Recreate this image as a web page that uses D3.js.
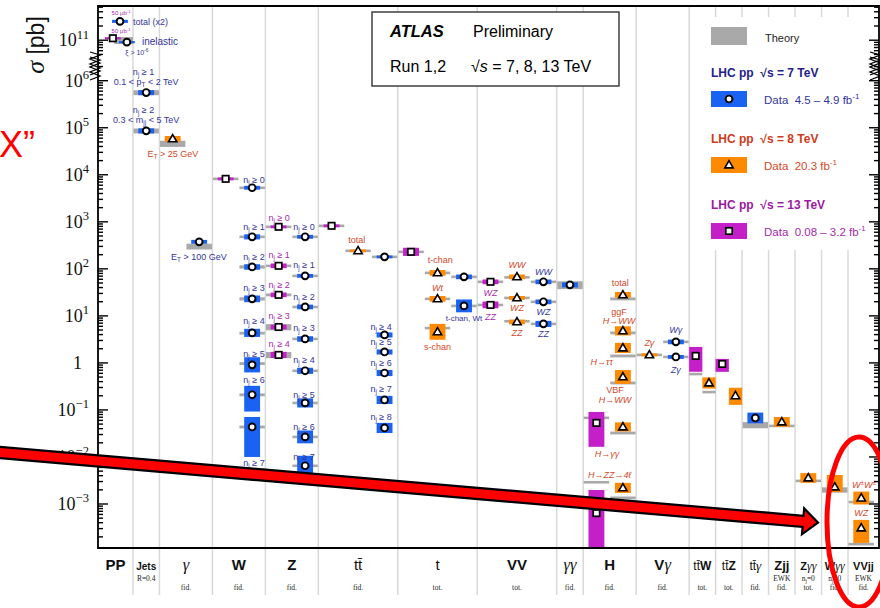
<!DOCTYPE html>
<html>
<head>
<meta charset="utf-8">
<script src="https://cdn.jsdelivr.net/npm/d3@7"></script>
<style>
  body { margin: 0; background: #fff; }
  svg { display: block; }
</style>
</head>
<body>
<svg id="chart" width="880" height="608"></svg>
<script>
// columns of the summary plot: name, slot edges, small text under the name
var colNames = ["PP", "Jets", "γ", "W", "Z", "tt\u0304", "t", "VV", "γγ", "H", "Vγ", "tt\u0304W", "tt\u0304Z", "tt\u0304γ", "Zjj", "Zγγ", "Wγγ", "VVjj"];
var colEdges = [-1.32, 0, 1, 3, 5, 7, 10, 13, 16, 17, 19, 21, 22, 23, 24, 25, 26, 27, 28.17];
var colNotes = [[], ["R=0.4"], ["fid."], ["fid."], ["fid."], ["fid."], ["tot."], ["tot."], ["fid."], ["fid."], ["fid."],
  ["tot."], ["tot."], ["fid."], ["EWK", "fid."], ["n_{j}=0", "tot."], ["n_{j}=0", "fid."], ["EWK", "fid."]];

// measurements: [slot, sigma (pb), rel. up, rel. down, theory sigma, theory rel. unc.]
var meas7 = [
  [-0.49, 2.5e11, .08, .07, null, 0],
  [-0.23, 9.1e10, .05, .05, 1.0e11, .17],
  [0.5, 5.6e5, .13, .12, 5.6e5, .12],
  [0.5, 8.6e4, .13, .12, 8.6e4, .12],
  [2.5, 375, .1, .09, 300, .14],
  [4.5, 5300, .1, .09, 5300, .06],
  [4.5, 480, .13, .12, 480, .06],
  [4.5, 110, .14, .13, 110, .08],
  [4.5, 23, .18, .15, 23, .08],
  [4.5, 4.35, .22, .18, 4.3, .07],
  [4.5, 0.91, .45, .31, 0.97, .07],
  [4.5, 0.21, .55, .56, 0.21, .07],
  [4.5, 0.0435, .63, .77, 0.0435, .07],
  [6.5, 480, .1, .09, 480, .06],
  [6.5, 71, .1, .09, 71, .06],
  [6.5, 15.5, .12, .11, 15.5, .06],
  [6.5, 3.24, .14, .13, 3.24, .06],
  [6.5, 0.68, .16, .14, 0.68, .06],
  [6.5, 0.141, .25, .2, 0.141, .06],
  [6.5, 0.0267, .37, .27, 0.0267, .06],
  [6.5, 0.0065, .63, .39, 0.0065, .06],
  [9.5, 180, .07, .07, 180, .06],
  [9.5, 3.94, .13, .12, null, 0],
  [9.5, 1.71, .13, .12, null, 0],
  [9.5, 0.61, .16, .14, null, 0],
  [9.5, 0.163, .22, .18, null, 0],
  [9.5, 0.0414, .28, .22, null, 0],
  [12.5, 67.6, .12, .11, 67.6, .05],
  [12.5, 16.3, .37, .27, 16.3, .05],
  [15.5, 53, .12, .11, 53, .05],
  [15.5, 19.9, .12, .11, 19.9, .05],
  [15.5, 6.76, .16, .14, 6.76, .05],
  [16.5, 45.7, .13, .12, 45.7, .19],
  [20.5, 2.8, .12, .11, 2.8, .03],
  [20.5, 1.34, .1, .09, 1.34, .03],
  [23.5, 0.0675, .3, .23, 0.048, .15]
];
var meas8 = [
  [1.5, 5.8e4, .15, .13, 4.6e4, .15],
  [8.5, 242, .07, .07, 242, .06],
  [11.5, 82, .15, .13, 82, .05],
  [11.5, 23, .15, .13, 23, .05],
  [11.5, 4.57, .48, .32, 5.5, .05],
  [14.5, 67.6, .12, .11, 66, .06],
  [14.5, 24.1, .1, .09, 24.1, .05],
  [14.5, 7.45, .12, .11, 7.7, .05],
  [18.5, 28, .15, .13, 23, .07],
  [18.5, 4.8, .25, .2, 4.35, .07],
  [18.5, 2.08, .28, .22, 1.41, .07],
  [18.5, 0.504, .4, .29, 0.375, .07],
  [18.5, 0.0435, .25, .2, 0.0324, .07],
  [18.5, 0.0022, .28, .22, 0.00135, .07],
  [19.5, 1.48, .08, .07, 1.48, .03],
  [21.75, 0.375, .31, .24, 0.24, .05],
  [22.75, 0.2, .48, .36, 0.23, .05],
  [24.5, 0.0556, .27, .21, 0.0457, .03],
  [25.5, 0.00357, .27, .21, 0.0031, .03],
  [26.5, 0.0023, .8, .22, 0.002, .13],
  [27.5, 0.00134, .37, .27, 0.0011, .04],
  [27.5, 3.1e-4, .48, .52, 1.4e-4, .04]
];
var meas13 = [
  [-0.76, 1.1e11, .04, .04, null, 0],
  [3.5, 8200, .07, .07, 8200, .06],
  [5.5, 783, .07, .07, 783, .06],
  [5.5, 116, .12, .11, 116, .06],
  [5.5, 28, .12, .11, 28, .07],
  [5.5, 5.8, .12, .11, 5.8, .15],
  [5.5, 1.48, .16, .14, 1.48, .15],
  [7.5, 822, .07, .07, 822, .05],
  [10.5, 230, .22, .18, 230, .05],
  [13.5, 53, .12, .11, 53, .05],
  [13.5, 17.1, .18, .15, 17.1, .06],
  [17.5, 0.053, .71, .69, 0.068, .05],
  [17.5, 6.4e-4, 2.1, .85, 0.0029, .05],
  [21.25, 1.41, .55, .54, 0.58, .05],
  [22.25, 0.95, .28, .32, 0.78, .05]
];

// labels next to the measurements: [text, slot, sigma, sqrt(s), font size, anchor]
var labels = [
  ["total (x2)", 0.0, 2.5e11, 7, 9, "start"], ["inelastic", 0.34, 9.5e10, 7, 10, "start"],
  ["50 μb^{-1}", -0.45, 3.7e11, 13, 6], ["50 μb^{-1}", -0.45, 1.55e11, 13, 6], ["ξ > 10^{-6}", 0.15, 5.6e10, 7, 7],
  ["n_{j} ≥ 1", 0.4, 1.55e6, 7, 9], ["0.1 < p_{T} < 2 TeV", 0.5, 9.5e5, 7, 9],
  ["n_{j} ≥ 2", 0.4, 2.4e5, 7, 9], ["0.3 < m_{jj} < 5 TeV", 0.5, 1.48e5, 7, 9],
  ["E_{T} > 25 GeV", 1.51, 2.8e4, 8, 9], ["E_{T} > 100 GeV", 2.49, 180, 7, 9],
  ["n_{j} ≥ 0", 4.57, 7800, 7, 9], ["n_{j} ≥ 1", 4.57, 780, 7, 9], ["n_{j} ≥ 2", 4.57, 180, 7, 9], ["n_{j} ≥ 3", 4.57, 39, 7, 9],
  ["n_{j} ≥ 4", 4.57, 7.8, 7, 9], ["n_{j} ≥ 5", 4.57, 1.55, 7, 9], ["n_{j} ≥ 6", 4.57, 0.44, 7, 9], ["n_{j} ≥ 7", 4.57, 0.0075, 7, 9],
  ["n_{j} ≥ 0", 5.52, 1230, 13, 9], ["n_{j} ≥ 1", 5.52, 200, 13, 9], ["n_{j} ≥ 2", 5.52, 46, 13, 9], ["n_{j} ≥ 3", 5.52, 10, 13, 9], ["n_{j} ≥ 4", 5.52, 2.5, 13, 9],
  ["n_{j} ≥ 0", 6.46, 780, 7, 9], ["n_{j} ≥ 1", 6.46, 122, 7, 9], ["n_{j} ≥ 2", 6.46, 25, 7, 9], ["n_{j} ≥ 3", 6.46, 5.6, 7, 9],
  ["n_{j} ≥ 4", 6.46, 1.16, 7, 9], ["n_{j} ≥ 5", 6.46, 0.21, 7, 9], ["n_{j} ≥ 6", 6.46, 0.044, 7, 9], ["n_{j} ≥ 7", 6.46, 0.01, 7, 9],
  ["total", 8.45, 415, 8, 9],
  ["n_{j} ≥ 4", 9.37, 5.8, 7, 9], ["n_{j} ≥ 5", 9.37, 2.8, 7, 9], ["n_{j} ≥ 6", 9.37, 1.0, 7, 9], ["n_{j} ≥ 7", 9.37, 0.28, 7, 9], ["n_{j} ≥ 8", 9.37, 0.071, 7, 9],
  ["t-chan", 11.6, 155, 8, 9], ["Wt", 11.5, 39, 8, 9], ["s-chan", 11.5, 2.2, 8, 9], ["t-chan, Wt", 12.5, 9.1, 7, 8],
  ["WZ", 13.5, 31, 13, 9], ["ZZ", 13.5, 9.5, 13, 9],
  ["WW", 14.5, 122, 8, 9], ["WZ", 14.5, 14.8, 8, 9], ["ZZ", 14.5, 4.35, 8, 9],
  ["WW", 15.5, 86, 7, 9], ["WZ", 15.5, 12.2, 7, 9], ["ZZ", 15.5, 4.1, 7, 9],
  ["total", 18.4, 50, 8, 9], ["ggF", 18.35, 12.2, 8, 9], ["H→WW", 18.35, 7.8, 8, 9], ["H→ττ", 17.7, 1.05, 8, 9],
  ["VBF", 18.2, 0.27, 8, 9], ["H→WW", 18.2, 0.16, 8, 9], ["H→γγ", 17.9, 0.0115, 8, 9], ["H→ZZ→4ℓ", 18.0, 0.0042, 8, 9],
  ["Zγ", 19.5, 2.7, 8, 9], ["Wγ", 20.5, 5.0, 7, 9], ["Zγ", 20.5, 0.71, 7, 9],
  ["W^{±}W^{±}", 27.6, 0.0025, 8, 9], ["WZ", 27.5, 6.4e-4, 8, 9]
];

var decadesLow = [-3, -2, -1, 0, 1, 2, 3, 4, 5, 6];
var decadesUp = [11];

var fill = {7: "#1a63f2", 8: "#ff8a00", 13: "#c41fc8"};
var ink = {7: "#34349e", 8: "#d2482a", 13: "#a22aac"};
var head = {7: "#22228a", 8: "#cc3a1a", 13: "#9a1aa2"};
var theoryColor = "#a9a9a9";

var svg = d3.select("#chart").attr("font-family", "Liberation Sans, Arial, sans-serif");

var x = d3.scaleLinear().domain([-1.32, 28.17]).range([98, 879]);
var yLow = d3.scaleLog().domain([1.16e-4, 2.5e6]).range([548, 62]);
var yUp = d3.scaleLog().domain([4.2e10, 5.3e11]).range([58, 6]);
function y(v) { return v > 1e8 ? yUp(v) : yLow(v); }
var sw = x(1) - x(0);

// small helper for ^{..} and _{..}
function rich(t, s, fs) {
  var shift = 0;
  s.split(/([\^_]\{[^}]*\})/).forEach(function(p) {
    if (!p) return;
    var m = p.match(/^([\^_])\{([^}]*)\}$/);
    if (m) {
      var d = m[1] == "^" ? -0.42 * fs : 0.25 * fs;
      t.append("tspan").attr("dy", d - shift).attr("font-size", fs * 0.7).text(m[2]);
      shift = d;
    } else {
      t.append("tspan").attr("dy", -shift).text(p);
      shift = 0;
    }
  });
  return t;
}

function colIndex(s) {
  for (var i = 0; i < colEdges.length - 1; i++) if (s >= colEdges[i] && s < colEdges[i + 1]) return i;
  return colEdges.length - 2;
}

// grid lines between columns
svg.append("g").selectAll("line").data(colEdges.slice(1, -1)).join("line")
  .attr("x1", d => x(d)).attr("x2", d => x(d)).attr("y1", 6).attr("y2", 595)
  .attr("stroke", "#d9d9d9").attr("stroke-width", 1.5);

// legend background hides the grid
svg.append("rect").attr("x", 697).attr("y", 17).attr("width", 180).attr("height", 233).attr("fill", "#fff");

var plot = svg.append("g").attr("clip-path", "url(#clip)");
svg.append("clipPath").attr("id", "clip").append("rect").attr("x", 98).attr("y", 6).attr("width", 781).attr("height", 542);

function drawSet(rows, e) {
  rows.forEach(function(r) {
    var slot = r[0], v = r[1], ci = colIndex(slot);
    var fr = slot - Math.floor(slot);
    var shared = (colEdges[ci + 1] - colEdges[ci]) === 1 && Math.abs(fr - 0.5) > 0.1;
    var dw = (shared ? 0.5 : 0.6) * sw, tw = (shared ? 0.5 : 0.96) * sw;
    var cx = x(slot);
    if (r[4] != null) {
      var t0 = y(r[4] * (1 + r[5])), t1 = y(r[4] * (1 - r[5]));
      if (t1 - t0 < 2.6) { var m = (t0 + t1) / 2; t0 = m - 1.3; t1 = m + 1.3; }
      var xa = Math.max(cx - tw / 2, x(colEdges[ci])), xb = Math.min(cx + tw / 2, x(colEdges[ci + 1]));
      plot.append("rect").attr("x", xa).attr("y", t0).attr("width", xb - xa).attr("height", t1 - t0).attr("fill", theoryColor);
    }
    var d0 = y(v * (1 + r[2])), d1 = y(v * (1 - r[3]));
    if (d1 - d0 < 2.2) { var mm = (d0 + d1) / 2; d0 = mm - 1.1; d1 = mm + 1.1; }
    plot.append("rect").attr("x", cx - dw / 2).attr("y", d0).attr("width", dw).attr("height", d1 - d0).attr("fill", fill[e]);
  });
}
drawSet(meas7, 7); drawSet(meas8, 8); drawSet(meas13, 13);

function marker(g, e, cx, cy) {
  if (e == 7) g.append("circle").attr("cx", cx).attr("cy", cy).attr("r", 3.4)
    .attr("fill", "#fff").attr("stroke", "#000").attr("stroke-width", 1.9);
  else if (e == 8) g.append("path").attr("d", d3.symbol(d3.symbolTriangle, 30)())
    .attr("transform", "translate(" + cx + "," + (cy + 0.5) + ")")
    .attr("fill", "#fff").attr("stroke", "#000").attr("stroke-width", 1.6);
  else g.append("rect").attr("x", cx - 3.2).attr("y", cy - 3.2).attr("width", 6.4).attr("height", 6.4)
    .attr("fill", "#fff").attr("stroke", "#000").attr("stroke-width", 1.7);
}
[[meas7, 7], [meas8, 8], [meas13, 13]].forEach(function(p) {
  p[0].forEach(function(r) { marker(plot, p[1], x(r[0]), y(r[1])); });
});

// labels on the points
var plain = /^(n_|E_|0\.|total|t-chan|s-chan|ggF|VBF|50|ξ|inel)/;
labels.forEach(function(l) {
  var fs = l[4];
  var t = svg.append("text").attr("x", x(l[1])).attr("y", y(l[2]) + fs * 0.35)
    .attr("text-anchor", l[5] || "middle").attr("font-size", fs).attr("fill", ink[l[3]]);
  if (!plain.test(l[0])) t.attr("font-style", "italic");
  rich(t, l[0], fs);
});

// frame and axes
var frame = svg.append("g").attr("stroke", "#000").attr("fill", "none");
frame.append("path").attr("d", "M98,548V6H879V548Z").attr("stroke-width", 1.8);
function ticks(sc, lo, hi) {
  var out = [];
  for (var e = lo; e <= hi; e++) for (var k = 1; k < 10; k++) {
    var v = k * Math.pow(10, e);
    if (v >= sc.domain()[0] && v <= sc.domain()[1]) out.push([sc(v), k == 1]);
  }
  return out;
}
var allTicks = ticks(yLow, -4, 6).concat(ticks(yUp, 10, 11));
frame.selectAll(".tl").data(allTicks).join("line").attr("class", "tl")
  .attr("x1", 98).attr("x2", d => d[1] ? 108 : 103).attr("y1", d => d[0]).attr("y2", d => d[0]).attr("stroke-width", 1.4);
frame.selectAll(".tr").data(allTicks).join("line").attr("class", "tr")
  .attr("x1", 879).attr("x2", d => d[1] ? 869 : 874).attr("y1", d => d[0]).attr("y2", d => d[0]).attr("stroke-width", 1.4);

// axis break marks
[90, 870].forEach(function(bx) {
  [0, 5].forEach(function(o) {
    frame.append("path").attr("stroke-width", 1.3)
      .attr("d", "M" + bx + "," + (52 + o) + "l10,3l-10,4l10,4l-10,4l10,4l-10,4");
  });
});

var yl = svg.append("g").attr("font-family", "Liberation Serif, Times New Roman, serif").attr("font-size", 18).attr("fill", "#111");
decadesLow.forEach(function(e) {
  var t = yl.append("text").attr("x", e == 0 ? 82 : 89).attr("y", yLow(Math.pow(10, e)) + 6).attr("text-anchor", "end");
  rich(t, e == 0 ? "1" : "10^{" + (e < 0 ? "\u2212" + (-e) : e) + "}", 18);
});
decadesUp.forEach(function(e) {
  rich(yl.append("text").attr("x", 89).attr("y", yUp(Math.pow(10, e)) + 6).attr("text-anchor", "end"), "10^{" + e + "}", 18);
});
var yt = svg.append("text").attr("transform", "translate(44,45) rotate(-90)").attr("text-anchor", "middle")
  .attr("font-size", 23).attr("fill", "#111");
yt.append("tspan").attr("font-style", "italic").attr("font-family", "Liberation Serif, serif").attr("font-size", 26).text("σ");
yt.append("tspan").text(" [pb]");

// column names under the plot
var colFs = {"Jets": 10, "Zγγ": 11, "Wγγ": 11, "VVjj": 11, "Zjj": 13, "tt\u0304W": 12, "tt\u0304Z": 12, "tt\u0304γ": 12};
colNames.forEach(function(name, i) {
  var cx = (x(colEdges[i]) + x(colEdges[i + 1])) / 2;
  var fs = colFs[name] || 15;
  var t = svg.append("text").attr("x", cx).attr("y", 570).attr("text-anchor", "middle").attr("font-size", fs).attr("fill", "#111");
  name.match(/t\u0304|./g).forEach(function(ch) {
    var s = t.append("tspan").text(ch);
    if (ch === "γ") s.attr("font-family", "Liberation Serif, serif").attr("font-style", "italic").attr("font-size", fs * 1.1);
    else if (ch[0] === "t" && name[0] === "t") s.attr("font-weight", "normal");
    else s.attr("font-weight", "bold");
  });
  var notes = colNotes[i];
  notes.forEach(function(n, j) {
    var ny = notes.length == 2 ? 581 + j * 9 : 590;
    if (name == "Jets") ny = 581;
    rich(svg.append("text").attr("x", cx).attr("y", ny).attr("text-anchor", "middle").attr("font-size", 7.5)
      .attr("font-family", "Liberation Serif, serif").attr("fill", "#222"), n, 7.5);
  });
});

// ATLAS box
var ab = svg.append("g");
ab.append("rect").attr("x", 372).attr("y", 12).attr("width", 247).attr("height", 74)
  .attr("fill", "#fff").attr("stroke", "#333").attr("stroke-width", 1.4);
ab.append("text").attr("x", 390).attr("y", 37).attr("font-size", 16.5).attr("font-weight", "bold").attr("font-style", "italic").text("ATLAS");
ab.append("text").attr("x", 473).attr("y", 37).attr("font-size", 16).text("Preliminary");
ab.append("text").attr("x", 390).attr("y", 72).attr("font-size", 16).text("Run 1,2");
var rs = ab.append("text").attr("x", 471).attr("y", 72).attr("font-size", 16);
rs.append("tspan").text("√");
rs.append("tspan").attr("font-style", "italic").text("s");
rs.append("tspan").text(" = 7, 8, 13 TeV");

// legend
var lg = svg.append("g");
lg.append("rect").attr("x", 711).attr("y", 27).attr("width", 36).attr("height", 18).attr("fill", theoryColor);
lg.append("text").attr("x", 765).attr("y", 42).attr("font-size", 11).attr("fill", "#222").text("Theory");
var legRows = [[7, "4.5 – 4.9 fb^{-1}", 73], [8, "20.3 fb^{-1}", 139], [13, "0.08 – 3.2 fb^{-1}", 205]];
legRows.forEach(function(r) {
  var e = r[0], ty = r[2];
  lg.append("text").attr("x", 711).attr("y", ty + 4).attr("font-size", 12).attr("font-weight", "bold").attr("fill", head[e])
    .attr("xml:space", "preserve").text("LHC pp  √s = " + e + " TeV");
  lg.append("rect").attr("x", 711).attr("y", ty + 18).attr("width", 36).attr("height", 16).attr("fill", fill[e]);
  marker(lg, e, 729, ty + 26);
  rich(lg.append("text").attr("x", 764).attr("y", ty + 31).attr("font-size", 11.5).attr("fill", ink[e])
    .attr("xml:space", "preserve"), "Data  " + r[1], 11.5);
});

// red overlay: arrow, ellipse and quote
var S = [-10, 451.7], T = [818, 522.6];
var ddx = T[0] - S[0], ddy = T[1] - S[1], L = Math.hypot(ddx, ddy);
var ux = ddx / L, uy = ddy / L, nx = -uy, ny = ux;
var hw = 5.6, hh = 13, hl = 15;
var B = [T[0] - ux * hl, T[1] - uy * hl];
function pt(p, k) { return [p[0] + nx * k, p[1] + ny * k]; }
var arrowPts = [pt(S, hw), pt(B, hw), pt(B, hh), T, pt(B, -hh), pt(B, -hw), pt(S, -hw)];
svg.append("path").attr("d", "M" + arrowPts.map(p => p.join(",")).join("L") + "Z")
  .attr("fill", "#ff0000").attr("stroke", "#000").attr("stroke-width", 2.2).attr("stroke-linejoin", "miter");
svg.append("ellipse").attr("cx", 859).attr("cy", 522).attr("rx", 32).attr("ry", 85)
  .attr("fill", "none").attr("stroke", "#ff0000").attr("stroke-width", 5);
svg.append("text").attr("x", -1).attr("y", 157).attr("font-size", 36).attr("fill", "#ff0000").text("X\u201d");
</script>
</body>
</html>
